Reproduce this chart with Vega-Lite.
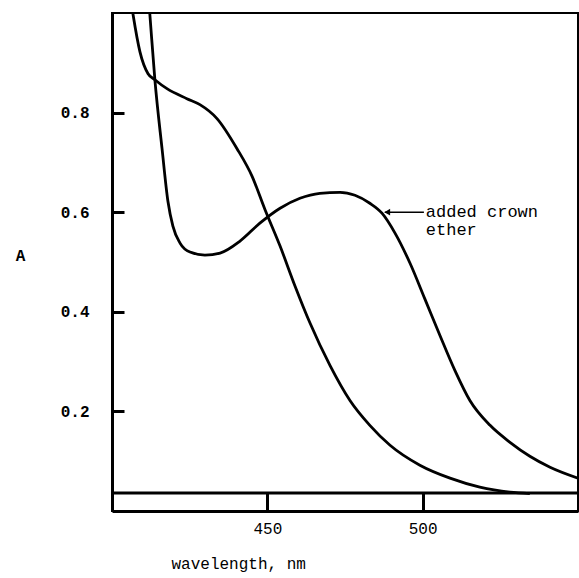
{
  "$schema": "https://vega.github.io/schema/vega-lite/v6.json",
  "width": 466,
  "height": 498,
  "autosize": {"type": "none"},
  "padding": {"left": 112, "top": 13, "right": 1, "bottom": 67},
  "background": "white",
  "config": {
    "view": {"stroke": "black", "strokeWidth": 2},
    "font": "Liberation Mono"
  },
  "layer": [
    {
      "data": {
        "values": [
          {"series": "no crown ether", "wavelength": 406.2, "A": 1.02},
          {"series": "no crown ether", "wavelength": 406.8, "A": 0.996},
          {"series": "no crown ether", "wavelength": 409.0, "A": 0.922},
          {"series": "no crown ether", "wavelength": 411.6, "A": 0.878},
          {"series": "no crown ether", "wavelength": 413.8, "A": 0.866},
          {"series": "no crown ether", "wavelength": 417.7, "A": 0.848},
          {"series": "no crown ether", "wavelength": 424.1, "A": 0.828},
          {"series": "no crown ether", "wavelength": 428.3, "A": 0.816},
          {"series": "no crown ether", "wavelength": 433.8, "A": 0.788},
          {"series": "no crown ether", "wavelength": 440.2, "A": 0.728},
          {"series": "no crown ether", "wavelength": 445.1, "A": 0.672},
          {"series": "no crown ether", "wavelength": 449.2, "A": 0.606},
          {"series": "no crown ether", "wavelength": 454.1, "A": 0.532},
          {"series": "no crown ether", "wavelength": 458.9, "A": 0.452},
          {"series": "no crown ether", "wavelength": 463.7, "A": 0.378},
          {"series": "no crown ether", "wavelength": 470.2, "A": 0.292},
          {"series": "no crown ether", "wavelength": 476.6, "A": 0.222},
          {"series": "no crown ether", "wavelength": 483.0, "A": 0.172},
          {"series": "no crown ether", "wavelength": 489.5, "A": 0.132},
          {"series": "no crown ether", "wavelength": 499.1, "A": 0.092},
          {"series": "no crown ether", "wavelength": 508.8, "A": 0.066},
          {"series": "no crown ether", "wavelength": 518.4, "A": 0.048},
          {"series": "no crown ether", "wavelength": 528.1, "A": 0.038},
          {"series": "no crown ether", "wavelength": 534.5, "A": 0.035},
          {"series": "added crown ether", "wavelength": 411.9, "A": 1.02},
          {"series": "added crown ether", "wavelength": 412.2, "A": 0.996},
          {"series": "added crown ether", "wavelength": 413.8, "A": 0.866},
          {"series": "added crown ether", "wavelength": 416.1, "A": 0.728},
          {"series": "added crown ether", "wavelength": 418.0, "A": 0.622},
          {"series": "added crown ether", "wavelength": 419.6, "A": 0.572},
          {"series": "added crown ether", "wavelength": 421.9, "A": 0.538},
          {"series": "added crown ether", "wavelength": 425.1, "A": 0.52},
          {"series": "added crown ether", "wavelength": 429.9, "A": 0.514},
          {"series": "added crown ether", "wavelength": 434.8, "A": 0.518},
          {"series": "added crown ether", "wavelength": 441.2, "A": 0.542},
          {"series": "added crown ether", "wavelength": 447.6, "A": 0.578},
          {"series": "added crown ether", "wavelength": 454.1, "A": 0.608},
          {"series": "added crown ether", "wavelength": 460.5, "A": 0.628},
          {"series": "added crown ether", "wavelength": 466.9, "A": 0.638},
          {"series": "added crown ether", "wavelength": 473.4, "A": 0.64},
          {"series": "added crown ether", "wavelength": 478.2, "A": 0.634},
          {"series": "added crown ether", "wavelength": 483.0, "A": 0.618},
          {"series": "added crown ether", "wavelength": 486.9, "A": 0.598},
          {"series": "added crown ether", "wavelength": 491.1, "A": 0.558},
          {"series": "added crown ether", "wavelength": 495.9, "A": 0.498},
          {"series": "added crown ether", "wavelength": 500.7, "A": 0.426},
          {"series": "added crown ether", "wavelength": 505.6, "A": 0.352},
          {"series": "added crown ether", "wavelength": 510.4, "A": 0.282},
          {"series": "added crown ether", "wavelength": 515.2, "A": 0.222},
          {"series": "added crown ether", "wavelength": 521.7, "A": 0.172},
          {"series": "added crown ether", "wavelength": 528.1, "A": 0.138},
          {"series": "added crown ether", "wavelength": 534.5, "A": 0.11},
          {"series": "added crown ether", "wavelength": 541.0, "A": 0.088},
          {"series": "added crown ether", "wavelength": 550.0, "A": 0.066}
        ]
      },
      "mark": {"type": "line", "color": "black", "strokeWidth": 2.8, "clip": true, "interpolate": "monotone"},
      "encoding": {
        "x": {
          "field": "wavelength",
          "type": "quantitative",
          "scale": {"domain": [400, 550], "nice": false, "zero": false},
          "axis": {
            "values": [450, 500],
            "grid": false,
            "tickSize": -18,
            "tickWidth": 3,
            "tickColor": "black",
            "domainColor": "black",
            "domainWidth": 3,
            "labelFont": "Liberation Mono",
            "labelFontSize": 16,
            "labelColor": "black",
            "labelPadding": 27,
            "labelDx": -7,
            "title": "wavelength, nm",
            "titleFont": "Liberation Mono",
            "titleFontSize": 16,
            "titleFontWeight": "normal",
            "titleColor": "black",
            "titleAnchor": "start",
            "titleAlign": "left",
            "titleX": 59,
            "titleY": 57,
            "titleBaseline": "alphabetic"
          }
        },
        "y": {
          "field": "A",
          "type": "quantitative",
          "scale": {"domain": [0, 1.0], "nice": false},
          "axis": {
            "values": [0.2, 0.4, 0.6, 0.8],
            "format": ".1f",
            "grid": false,
            "tickSize": -12,
            "tickWidth": 3,
            "tickColor": "black",
            "domainColor": "black",
            "domainWidth": 3,
            "labelFont": "Liberation Mono",
            "labelFontSize": 16,
            "labelFontWeight": "bold",
            "labelColor": "black",
            "labelPadding": 35,
            "title": "A",
            "titleFont": "Liberation Mono",
            "titleFontSize": 16,
            "titleFontWeight": "bold",
            "titleColor": "black",
            "titleAngle": 0,
            "titleX": -92,
            "titleY": 242,
            "titleAlign": "center",
            "titleBaseline": "middle"
          }
        },
        "detail": {"field": "series"}
      }
    },
    {
      "data": {"values": [{"A": 0.036}]},
      "mark": {"type": "rule", "color": "black", "strokeWidth": 3},
      "encoding": {"y": {"field": "A", "type": "quantitative"}}
    },
    {
      "data": {"values": [{"w1": 487.8, "w2": 500.4, "A": 0.6}]},
      "mark": {"type": "rule", "color": "black", "strokeWidth": 1.5},
      "encoding": {
        "x": {"field": "w1", "type": "quantitative"},
        "x2": {"field": "w2"},
        "y": {"field": "A", "type": "quantitative"}
      }
    },
    {
      "data": {"values": [{"w": 488.6, "A": 0.6}]},
      "mark": {"type": "point", "shape": "triangle-left", "filled": true, "color": "black", "size": 45, "opacity": 1},
      "encoding": {
        "x": {"field": "w", "type": "quantitative"},
        "y": {"field": "A", "type": "quantitative"}
      }
    },
    {
      "data": {"values": [{"w": 501.0, "A": 0.6, "t": "added crown"}, {"w": 501.0, "A": 0.565, "t": "ether"}]},
      "mark": {"type": "text", "align": "left", "baseline": "middle", "font": "Liberation Mono", "fontSize": 17, "color": "black"},
      "encoding": {
        "x": {"field": "w", "type": "quantitative"},
        "y": {"field": "A", "type": "quantitative"},
        "text": {"field": "t"}
      }
    }
  ]
}
